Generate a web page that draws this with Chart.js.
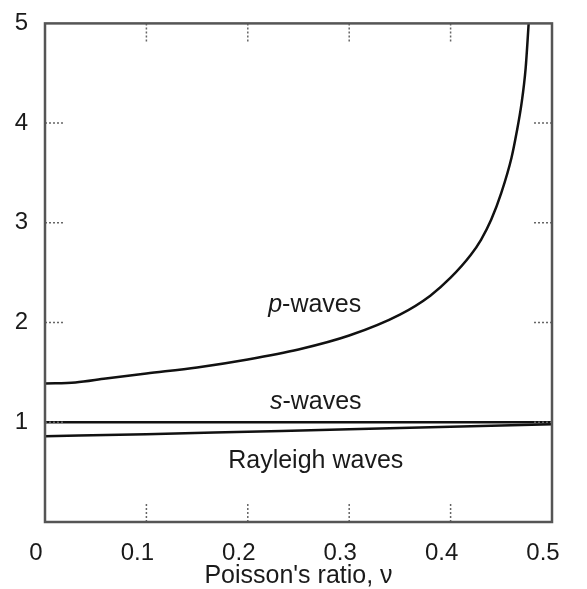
<!DOCTYPE html>
<html>
<head>
<meta charset="utf-8">
<script src="https://cdn.jsdelivr.net/npm/chart.js@4"></script>
<style>
  body { margin: 0; background: #fff; }
  #wrap { width: 587px; height: 589px; }
</style>
</head>
<body>
<div id="wrap"><canvas id="waveChart"></canvas></div>
<script>
// values (vp/vs, vR/vs against Poisson's ratio)
const nu = [0, 0.03, 0.06, 0.1, 0.15, 0.2, 0.25, 0.3, 0.35, 0.38, 0.4, 0.42, 0.43, 0.44, 0.45, 0.46, 0.465, 0.47, 0.474, 0.477];
const pWave = [1.39, 1.40, 1.44, 1.49, 1.55, 1.63, 1.73, 1.87, 2.08, 2.27, 2.45, 2.68, 2.83, 3.03, 3.30, 3.65, 3.90, 4.20, 4.55, 5.00];
const rayNu = [0, 0.1, 0.2, 0.3, 0.4, 0.5];
const rayleigh = [0.86, 0.88, 0.905, 0.93, 0.955, 0.98];
const sNu = [0, 0.5];
const sWave = [1, 1];
const xTicks = [0.1, 0.2, 0.3, 0.4];
const yTicks = [1, 2, 3, 4];
const labels = [
    { text: "-waves", ital: "p", x: 0.266, y: 2.18 },
    { text: "-waves", ital: "s", x: 0.267, y: 1.20 },
    { text: "Rayleigh waves", ital: "", x: 0.267, y: 0.61 }
];

const toPts = (xs, ys) => xs.map((x, i) => ({ x: x, y: ys[i] }));
const FONT = "'Liberation Sans', Arial, sans-serif";

// frame, inner ticks and curve labels
const decor = {
    id: "decor",
    afterDraw(chart) {
        const { ctx, chartArea: a, scales: { x, y } } = chart;
        ctx.save();
        ctx.strokeStyle = "#666";
        ctx.lineWidth = 1.5;
        ctx.setLineDash([2, 2]);
        xTicks.forEach(v => {
            const px = x.getPixelForValue(v);
            ctx.beginPath();
            ctx.moveTo(px, a.bottom); ctx.lineTo(px, a.bottom - 20);
            ctx.moveTo(px, a.top); ctx.lineTo(px, a.top + 18);
            ctx.stroke();
        });
        yTicks.forEach(v => {
            const py = y.getPixelForValue(v);
            ctx.beginPath();
            ctx.moveTo(a.left, py); ctx.lineTo(a.left + 20, py);
            ctx.moveTo(a.right, py); ctx.lineTo(a.right - 20, py);
            ctx.stroke();
        });
        ctx.setLineDash([]);
        ctx.strokeStyle = "#555";
        ctx.lineWidth = 2.5;
        ctx.strokeRect(a.left, a.top, a.right - a.left, a.bottom - a.top);

        ctx.fillStyle = "#1a1a1a";
        ctx.textBaseline = "middle";
        labels.forEach(l => {
            const cx = x.getPixelForValue(l.x), cy = y.getPixelForValue(l.y);
            ctx.font = "italic 25px " + FONT;
            const wi = ctx.measureText(l.ital).width;
            ctx.font = "25px " + FONT;
            const wt = ctx.measureText(l.text).width;
            let sx = cx - (wi + wt) / 2;
            ctx.textAlign = "left";
            if (l.ital) {
                ctx.font = "italic 25px " + FONT;
                ctx.fillText(l.ital, sx, cy);
            }
            ctx.font = "25px " + FONT;
            ctx.fillText(l.text, sx + wi, cy);
        });
        ctx.restore();
    }
};

const line = (data) => ({
    data: data,
    borderColor: "#111",
    borderWidth: 2.5,
    pointRadius: 0,
    fill: false,
    cubicInterpolationMode: "monotone"
});

new Chart(document.getElementById("waveChart"), {
    type: "line",
    data: {
        datasets: [
            line(toPts(nu, pWave)),
            line(toPts(sNu, sWave)),
            line(toPts(rayNu, rayleigh))
        ]
    },
    options: {
        responsive: true,
        maintainAspectRatio: false,
        animation: false,
        layout: { padding: { left: 0, top: 10, right: 35, bottom: 0 } },
        plugins: { legend: { display: false }, tooltip: { enabled: false } },
        scales: {
            x: {
                type: "linear",
                min: 0,
                max: 0.5,
                grid: { display: false },
                border: { display: false },
                afterFit: s => { s.height = 67; },
                ticks: {
                    stepSize: 0.1,
                    padding: 9,
                    labelOffset: -9,
                    color: "#1a1a1a",
                    font: { family: FONT, size: 24 },
                    callback: v => (v === 0 ? "0" : v.toFixed(1))
                },
                title: {
                    display: true,
                    text: "Poisson's ratio, ν",
                    color: "#1a1a1a",
                    font: { family: FONT, size: 25, lineHeight: 1 },
                    padding: { top: 0, bottom: 0 }
                }
            },
            y: {
                min: 0,
                max: 5,
                grid: { display: false },
                border: { display: false },
                afterFit: s => { s.width = 45; },
                ticks: {
                    stepSize: 1,
                    padding: 9,
                    color: "#1a1a1a",
                    font: { family: FONT, size: 24 },
                    callback: v => (v === 0 ? "" : v)
                }
            }
        }
    },
    plugins: [decor]
});
</script>
</body>
</html>
